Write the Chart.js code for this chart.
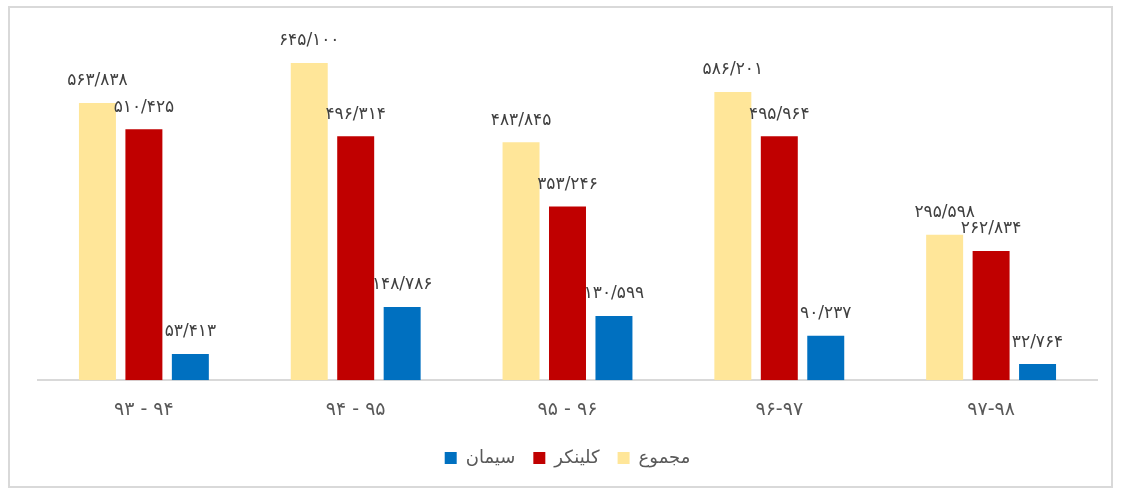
<!DOCTYPE html>
<html>
<head>
<meta charset="utf-8">
<script src="https://cdn.jsdelivr.net/npm/chart.js@4.4.1/dist/chart.umd.min.js"></script>
<style>
  html, body { margin: 0; padding: 0; background: #fff; }
  #wrap { position: absolute; left: 8px; top: 6px; width: 1105px; height: 482px; border: 2px solid #d9d9d9; box-sizing: border-box; }
  #chartBox { position: absolute; left: 0; top: 0; width: 1123px; height: 493px; }
</style>
</head>
<body>
<div id="wrap"></div>
<div id="chartBox"><canvas id="chart"></canvas></div>
<script>
// سال‌ها
const categories = ['۹۳ - ۹۴', '۹۴ - ۹۵', '۹۵ - ۹۶', '۹۶-۹۷', '۹۷-۹۸'];

const majmoo = [563.838, 645.100, 483.845, 586.201, 295.598];
const clinker = [510.425, 496.314, 353.246, 495.964, 262.834];
const siman = [53.413, 148.786, 130.599, 90.237, 32.764];

const majmooLabels = ['۵۶۳/۸۳۸', '۶۴۵/۱۰۰', '۴۸۳/۸۴۵', '۵۸۶/۲۰۱', '۲۹۵/۵۹۸'];
const clinkerLabels = ['۵۱۰/۴۲۵', '۴۹۶/۳۱۴', '۳۵۳/۲۴۶', '۴۹۵/۹۶۴', '۲۶۲/۸۳۴'];
const simanLabels = ['۵۳/۴۱۳', '۱۴۸/۷۸۶', '۱۳۰/۵۹۹', '۹۰/۲۳۷', '۳۲/۷۶۴'];

const valueLabels = {
    id: 'valueLabels',
    afterDatasetsDraw(chart) {
        const ctx = chart.ctx;
        ctx.save();
        ctx.font = '17px "DejaVu Sans", sans-serif';
        ctx.fillStyle = '#404040';
        ctx.textAlign = 'center';
        ctx.textBaseline = 'middle';
        chart.data.datasets.forEach((ds, i) => {
            const meta = chart.getDatasetMeta(i);
            meta.data.forEach((bar, j) => {
                ctx.fillText(ds.labelsText[j], bar.x, bar.y - 22);
            });
        });
        ctx.restore();
    }
};

new Chart(document.getElementById('chart'), {
    type: 'bar',
    data: {
        labels: categories,
        datasets: [
            { label: 'مجموع', data: majmoo, labelsText: majmooLabels, backgroundColor: '#ffe699' },
            { label: 'کلینکر', data: clinker, labelsText: clinkerLabels, backgroundColor: '#c00000' },
            { label: 'سیمان', data: siman, labelsText: simanLabels, backgroundColor: '#0070c0' }
        ]
    },
    options: {
        responsive: true,
        maintainAspectRatio: false,
        animation: false,
        devicePixelRatio: 1,
        categoryPercentage: 0.658,
        barPercentage: 0.796,
        layout: { padding: { top: 36, left: 38, right: 26, bottom: 16 } },
        plugins: {
            legend: {
                position: 'bottom',
                reverse: true,
                labels: {
                    boxWidth: 12,
                    boxHeight: 12,
                    padding: 18,
                    color: '#595959',
                    font: { size: 18, family: '"DejaVu Sans", sans-serif' }
                }
            },
            tooltip: { enabled: false }
        },
        scales: {
            y: { display: false, min: 0, max: 700 },
            x: {
                grid: { display: false },
                border: { color: '#d9d9d9', width: 2 },
                ticks: {
                    color: '#595959',
                    padding: 10,
                    font: { size: 19, family: '"DejaVu Sans", sans-serif' }
                }
            }
        }
    },
    plugins: [valueLabels]
});
</script>
</body>
</html>
